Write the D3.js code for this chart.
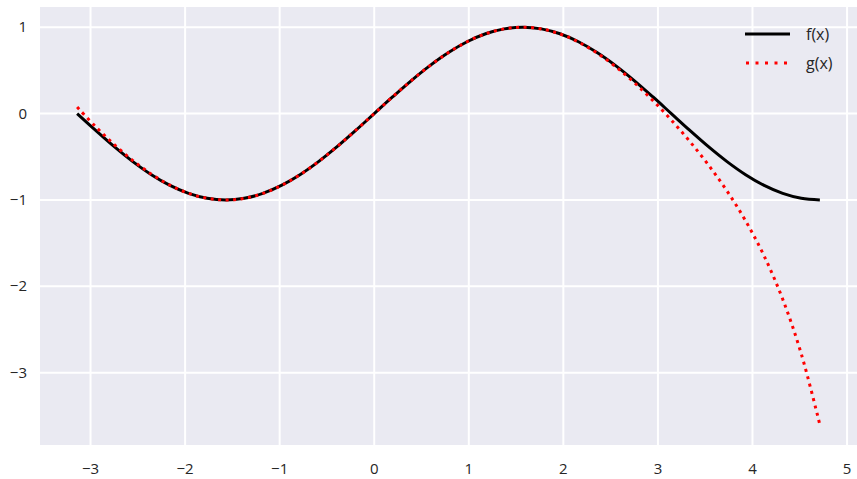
<!DOCTYPE html>
<html><head><meta charset="utf-8">
<script src="https://cdn.jsdelivr.net/npm/d3@7"></script>
<style>body{margin:0;background:#fff}svg{display:block}</style>
</head><body><svg id="c" width="857" height="479"></svg>
<script>
const xs = [-3.14159,-2.94524,-2.74889,-2.55254,-2.35619,-2.15984,-1.96350,-1.76715,-1.57080,-1.37445,-1.17810,-0.98175,-0.78540,-0.58905,-0.39270,-0.19635,0,0.19635,0.39270,0.58905,0.78540,0.98175,1.17810,1.37445,1.57080,1.76715,1.96350,2.15984,2.35619,2.55254,2.74889,2.94524,3.14159,3.33794,3.53429,3.73064,3.92699,4.12334,4.31969,4.51604,4.71239];
const fVals = [0,-0.19509,-0.38268,-0.55557,-0.70711,-0.83147,-0.92388,-0.98079,-1,-0.98079,-0.92388,-0.83147,-0.70711,-0.55557,-0.38268,-0.19509,0,0.19509,0.38268,0.55557,0.70711,0.83147,0.92388,0.98079,1,0.98079,0.92388,0.83147,0.70711,0.55557,0.38268,0.19509,0,-0.19509,-0.38268,-0.55557,-0.70711,-0.83147,-0.92388,-0.98079,-1];
const gVals = [0.07522,-0.15257,-0.35960,-0.54361,-0.70124,-0.82877,-0.92273,-0.98034,-0.99984,-0.98074,-0.92388,-0.83147,-0.70711,-0.55557,-0.38268,-0.19509,0,0.19509,0.38268,0.55557,0.70711,0.83147,0.92388,0.98074,0.99984,0.98034,0.92273,0.82877,0.70124,0.54361,0.35960,0.15257,-0.07522,-0.32346,-0.59490,-0.89657,-1.24122,-1.64896,-2.14906,-2.78213,-3.60232];
const xTicks = [-3,-2,-1,0,1,2,3,4,5];
const yTicks = [-3,-2,-1,0,1];
const seriesNames = ["f(x)","g(x)"];

const svg = d3.select("#c");
const L = 40, R = 857, T = 7, B = 445;
const x = d3.scaleLinear().domain([-3.5343, 5.1051]).range([L, R]);
const y = d3.scaleLinear().domain([-3.8364, 1.2340]).range([B, T]);
const font = "'Open Sans', sans-serif";
const txt = "#262626";

svg.append("rect").attr("x", L).attr("y", T).attr("width", R - L).attr("height", B - T).attr("fill", "#eaeaf2");
const g = svg.append("g");
xTicks.forEach(t => g.append("line").attr("x1", x(t)).attr("x2", x(t)).attr("y1", T).attr("y2", B).attr("stroke", "#fff").attr("stroke-width", 2));
yTicks.forEach(t => g.append("line").attr("y1", y(t)).attr("y2", y(t)).attr("x1", L).attr("x2", R).attr("stroke", "#fff").attr("stroke-width", 2));

const fmt = t => (t < 0 ? "\u2212" + Math.abs(t) : String(t));
xTicks.forEach(t => svg.append("text").attr("x", x(t)).attr("y", 474).attr("text-anchor", "middle").attr("font-family", font).attr("font-size", 15).attr("fill", txt).text(fmt(t)));
yTicks.forEach(t => svg.append("text").attr("x", 27).attr("y", y(t) + 5).attr("text-anchor", "end").attr("font-family", font).attr("font-size", 15).attr("fill", txt).text(fmt(t)));

const line = d3.line().curve(d3.curveCatmullRom.alpha(0.5));
const fPts = xs.map((v, i) => [x(v), y(fVals[i])]);
const gPts = xs.map((v, i) => [x(v), y(gVals[i])]);
svg.append("path").attr("d", line(fPts)).attr("fill", "none").attr("stroke", "#000").attr("stroke-width", 3);
svg.append("path").attr("d", line(gPts)).attr("fill", "none").attr("stroke", "#ff0000").attr("stroke-width", 3).attr("stroke-dasharray", "3,4.5");

// legend
const leg = svg.append("g");
leg.append("line").attr("x1", 745).attr("x2", 790).attr("y1", 34).attr("y2", 34).attr("stroke", "#000").attr("stroke-width", 3);
leg.append("line").attr("x1", 746).attr("x2", 790).attr("y1", 63).attr("y2", 63).attr("stroke", "#ff0000").attr("stroke-width", 3).attr("stroke-dasharray", "3,6.5");
leg.append("text").attr("x", 806).attr("y", 40).attr("font-family", font).attr("font-size", 16).attr("fill", txt).text(seriesNames[0]);
leg.append("text").attr("x", 806).attr("y", 69).attr("font-family", font).attr("font-size", 16).attr("fill", txt).text(seriesNames[1]);
</script></body></html>
